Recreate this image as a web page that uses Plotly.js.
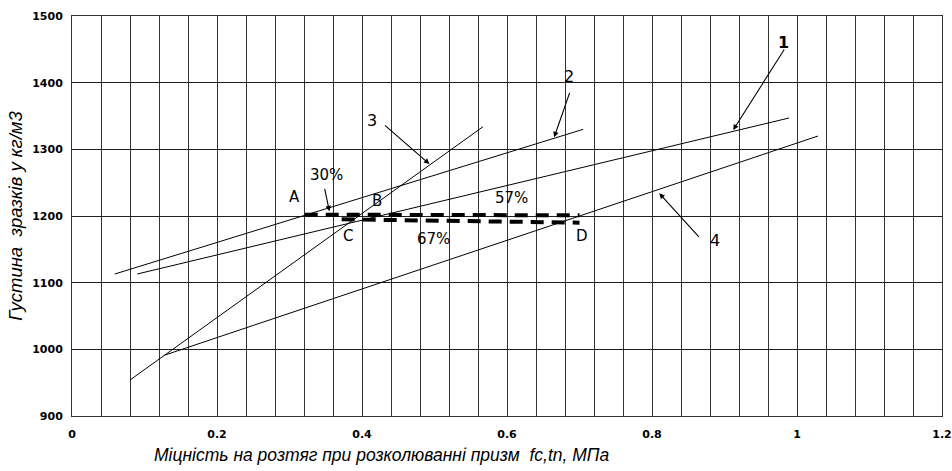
<!DOCTYPE html>
<html>
<head>
<meta charset="utf-8">
<script src="https://cdn.plot.ly/plotly-3.0.1.min.js"></script>
<style>html,body{margin:0;padding:0;background:#fff;}#chart{width:952px;height:471px;}</style>
</head>
<body>
<div id="chart"></div>
<script>
// Line series (x = strength, MPa; y = density, kg/m3)
const line1X = [0.090, 0.989];
const line1Y = [1113, 1347];
const line2X = [0.059, 0.705];
const line2Y = [1113, 1330];
const line3X = [0.080, 0.567];
const line3Y = [954, 1334];
const line4X = [0.127, 1.029];
const line4Y = [991, 1320];
// Dashed connecting lines A–D and C–D
const dashADX = [0.321, 0.700];
const dashADY = [1202, 1201];
const dashCDX = [0.372, 0.700];
const dashCDY = [1195, 1190];

// Text labels
const labelTexts = ['A', 'B', 'C', 'D', '30%', '57%', '67%', '1', '2', '3', '4'];
const labelX = [0.307, 0.420, 0.380, 0.703, 0.351, 0.606, 0.499, 0.982, 0.686, 0.414, 0.887];
const labelY = [1228, 1222, 1170, 1170, 1262, 1227, 1165, 1461, 1409, 1343, 1163];

// Arrow tips (data coords) for pointer arrows
const arrowTipX = [0.912, 0.665, 0.493, 0.810, 0.355];
const arrowTipY = [1329, 1318, 1278, 1234, 1207];

const xTickVals = [0, 0.2, 0.4, 0.6, 0.8, 1, 1.2];
const xTickText = ['0', '0.2', '0.4', '0.6', '0.8', '1', '1.2'];
const yTickVals = [900, 1000, 1100, 1200, 1300, 1400, 1500];

const thin = {color: '#000', width: 1};
const traces = [
  {x: line1X, y: line1Y, mode: 'lines', line: thin},
  {x: line2X, y: line2Y, mode: 'lines', line: thin},
  {x: line3X, y: line3Y, mode: 'lines', line: thin},
  {x: line4X, y: line4Y, mode: 'lines', line: thin},
  {x: dashADX, y: dashADY, mode: 'lines', line: {color: '#000', width: 4, dash: '13px,8px'}},
  {x: dashCDX, y: dashCDY, mode: 'lines', line: {color: '#000', width: 4, dash: '13px,8px'}}
];

// arrow tail pixel offsets (layout only)
const arrowOffsets = [[52, -82], [16, -46], [-46, -40], [41, 45], [-5, -24]];

const annotations = [];
labelTexts.forEach((t, i) => {
  const isNum = ['1', '2', '3', '4'].includes(t);
  annotations.push({
    x: labelX[i], y: labelY[i], xref: 'x', yref: 'y', text: t, showarrow: false,
    font: {family: 'DejaVu Sans', size: isNum ? 16 : 15, color: '#000', weight: t === '1' ? 'bold' : 'normal'}
  });
});
arrowTipX.forEach((x, i) => {
  annotations.push({
    x: x, y: arrowTipY[i], xref: 'x', yref: 'y', text: '', showarrow: true,
    ax: arrowOffsets[i][0], ay: arrowOffsets[i][1],
    arrowhead: 2, arrowsize: 1, arrowwidth: 1.1, arrowcolor: '#000', standoff: 0
  });
});
annotations.push({
  xref: 'paper', yref: 'paper', x: 0.092, y: -0.098, xanchor: 'left', yanchor: 'middle',
  text: 'Міцність на розтяг при розколюванні призм  fc,tn, МПа', showarrow: false,
  font: {family: 'Liberation Sans Narrow, Liberation Sans', size: 17.5, style: 'italic', color: '#000'}
});

const layout = {
  width: 952, height: 471,
  margin: {l: 72, r: 10, t: 16, b: 55},
  paper_bgcolor: '#fff', plot_bgcolor: '#fff',
  showlegend: false,
  xaxis: {
    range: [0, 1.2], tickvals: xTickVals, ticktext: xTickText,
    showgrid: false, zeroline: false, showline: true, linecolor: '#333', mirror: true,
    ticks: '', ticklen: 0, ticklabelstandoff: 8,
    tickfont: {family: 'DejaVu Sans', size: 11, color: '#000', weight: 'bold'},
    minor: {dtick: 0.04, showgrid: true, gridcolor: '#333', gridwidth: 1}
  },
  yaxis: {
    range: [900, 1500], tickvals: yTickVals, dtick: 100,
    showgrid: true, gridcolor: '#222', gridwidth: 1,
    zeroline: false, showline: true, linecolor: '#333', mirror: true,
    ticks: '', ticklabelstandoff: 6,
    tickfont: {family: 'DejaVu Sans', size: 11, color: '#000', weight: 'bold'},
    title: {text: 'Густина  зразків у кг/м3', standoff: 4,
      font: {family: 'Liberation Sans', size: 18.5, style: 'italic', color: '#000'}}
  },
  annotations: annotations
};

Plotly.newPlot('chart', traces, layout, {displayModeBar: false, staticPlot: true});
</script>
</body>
</html>
